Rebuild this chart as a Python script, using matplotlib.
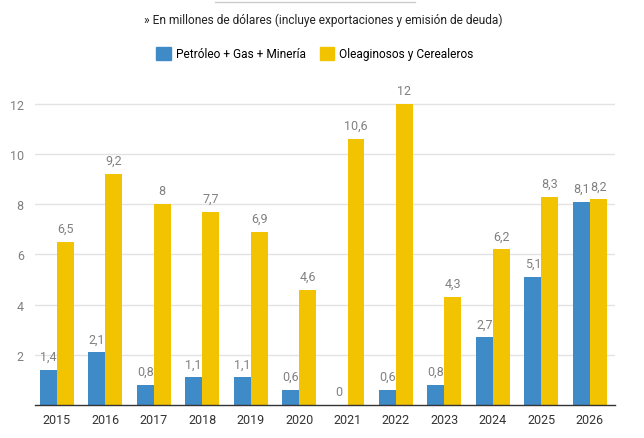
import numpy as np
import matplotlib.pyplot as plt
from matplotlib.patches import Patch

years = ['2015', '2016', '2017', '2018', '2019', '2020', '2021', '2022', '2023', '2024', '2025', '2026']
petroleo = [1.4, 2.1, 0.8, 1.1, 1.1, 0.6, 0, 0.6, 0.8, 2.7, 5.1, 8.1]
oleaginosos = [6.5, 9.2, 8, 7.7, 6.9, 4.6, 10.6, 12, 4.3, 6.2, 8.3, 8.2]

plt.rcParams['font.family'] = ['Roboto', 'DejaVu Sans']

blue = '#3f8bc8'
yellow = '#f2c300'
gray = '#808080'

fig = plt.figure(figsize=(6.44, 4.39), dpi=100)
ax = fig.add_axes([0.0543, 0.0752, 0.9007, 0.703])

x = np.arange(len(years))
w = 0.35
ax.bar(x - w / 2, petroleo, w, color=blue, zorder=2)
ax.bar(x + w / 2, oleaginosos, w, color=yellow, zorder=2)

def fmt(v):
    return ('%g' % v).replace('.', ',')

for i in range(len(years)):
    ax.annotate(fmt(petroleo[i]), (x[i] - w / 2, petroleo[i]), xytext=(0, 5),
                textcoords='offset points', ha='center', va='bottom',
                fontsize=9, color=gray)
    ax.annotate(fmt(oleaginosos[i]), (x[i] + w / 2, oleaginosos[i]), xytext=(0, 5),
                textcoords='offset points', ha='center', va='bottom',
                fontsize=9, color=gray)

ax.set_xlim(-0.45, 11.52)
ax.set_ylim(0, 12.3)
ax.set_xticks(x)
ax.set_xticklabels(years, fontsize=9, color='#333333')
ax.set_yticks([2, 4, 6, 8, 10, 12])
ax.set_yticklabels(['2', '4', '6', '8', '10', '12'], fontsize=9, color=gray)
ax.tick_params(axis='both', length=0)
ax.tick_params(axis='x', pad=6)
ax.tick_params(axis='y', pad=8)
ax.grid(axis='y', color='#e3e3e3', linewidth=1, zorder=0)
for side in ['top', 'right', 'left']:
    ax.spines[side].set_visible(False)
ax.spines['bottom'].set_color('#333333')
ax.spines['bottom'].set_linewidth(1)

# subtitulo y leyenda
fig.text(0.502, 0.953, '» En millones de dólares (incluye exportaciones y emisión de deuda)',
         ha='center', va='center', fontsize=8.6, color='#222222')
fig.add_artist(plt.Line2D([215 / 644, 415 / 644], [1 - 3 / 439, 1 - 3 / 439],
                          color='#cccccc', linewidth=1))
handles = [Patch(color=blue, label='Petróleo + Gas + Minería'),
           Patch(color=yellow, label='Oleaginosos y Cerealeros')]
fig.legend(handles=handles, loc='center', bbox_to_anchor=(0.489, 0.875), ncol=2,
           frameon=False, fontsize=8.6, handlelength=1.2, handleheight=1.2,
           handletextpad=0.4, columnspacing=1.2)

plt.savefig('out.png', dpi=100)
